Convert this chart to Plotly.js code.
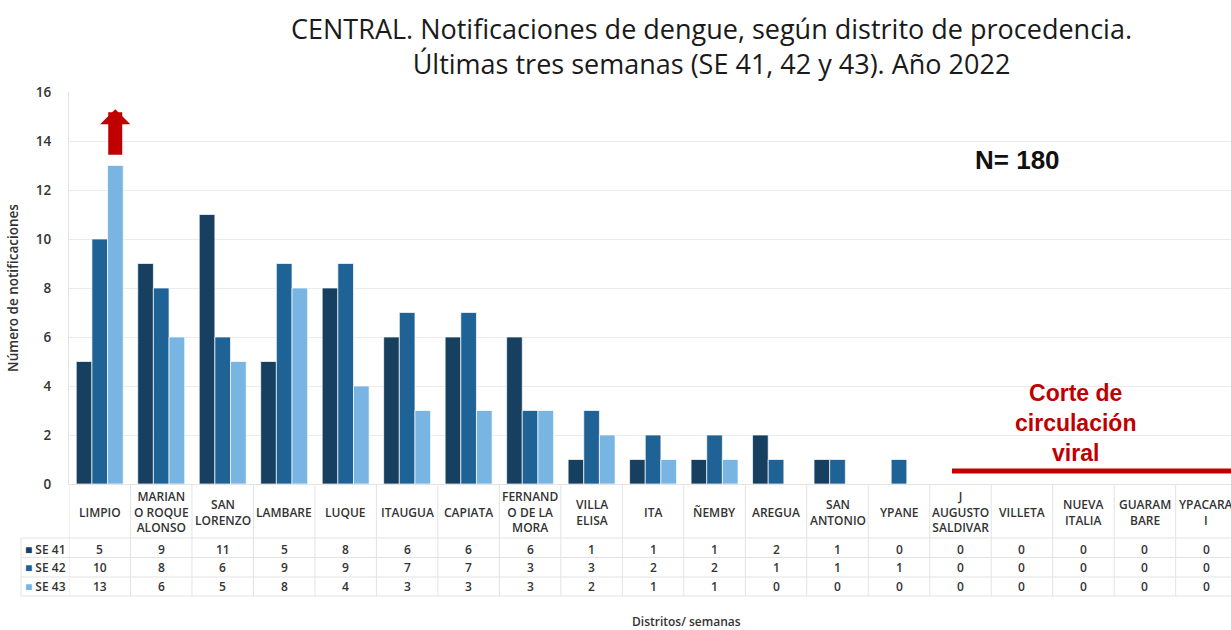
<!DOCTYPE html>
<html>
<head>
<meta charset="utf-8">
<script src="https://cdn.plot.ly/plotly-3.0.1.min.js"></script>
<style>html,body{margin:0;padding:0;background:#fff}#chart{width:1231px;height:630px}</style>
</head>
<body>
<div id="chart"></div>
<script>
// ---- Data ----
const districts = ["LIMPIO","MARIANO ROQUE ALONSO","SAN LORENZO","LAMBARE","LUQUE","ITAUGUA","CAPIATA","FERNANDO DE LA MORA","VILLA ELISA","ITA","ÑEMBY","AREGUA","SAN ANTONIO","YPANE","J AUGUSTO SALDIVAR","VILLETA","NUEVA ITALIA","GUARAMBARE","YPACARAI"];
const districtLabels = ["LIMPIO","MARIAN<br>O ROQUE<br>ALONSO","SAN<br>LORENZO","LAMBARE","LUQUE","ITAUGUA","CAPIATA","FERNAND<br>O DE LA<br>MORA","VILLA<br>ELISA","ITA","ÑEMBY","AREGUA","SAN<br>ANTONIO","YPANE","J<br>AUGUSTO<br>SALDIVAR","VILLETA","NUEVA<br>ITALIA","GUARAM<br>BARE","YPACARA<br>I"];
const seriesNames = ["SE 41","SE 42","SE 43"];
const se41 = [5,9,11,5,8,6,6,6,1,1,1,2,1,0,0,0,0,0,0];
const se42 = [10,8,6,9,9,7,7,3,3,2,2,1,1,1,0,0,0,0,0];
const se43 = [13,6,5,8,4,3,3,3,2,1,1,0,0,0,0,0,0,0,0];
const totalN = 180;

// ---- Styles ----
const colors = ["#163f60","#1f6295","#78b5e3"];
const seriesValues = [se41, se42, se43];
const txt = "#333333";
const gridC = "#ebebeb";
const fontFam = "'Open Sans', 'Noto Sans', sans-serif";

const traces = seriesValues.map((vals, i) => ({
  type: "bar",
  name: seriesNames[i],
  x: districts,
  y: vals,
  marker: {color: colors[i], line: {color: "rgba(255,255,255,0.7)", width: 1}},
  hoverinfo: "x+y+name"
}));

// paper-coordinate helpers (plot area: 392px tall, 1162px wide)
const PH = 392, PW = 1162;
const py = p => (484 - p) / PH;
const px = p => (p - 69) / PW;

const shapes = [];
const annotations = [];
const tableBottom = py(596);
// vertical table lines
for (let k = 0; k <= districts.length; k++) {
  shapes.push({type: "line", xref: "x", yref: "paper", x0: k - 0.5, x1: k - 0.5, y0: 0, y1: tableBottom,
    line: {color: "#e3e3e3", width: 1}});
}
// left legend column border
shapes.push({type: "line", xref: "paper", yref: "paper", x0: px(21), x1: px(21), y0: py(538), y1: tableBottom, line: {color: "#e3e3e3", width: 1}});
// horizontal row lines
[538, 557.5, 577, 596].forEach(p => shapes.push({type: "line", xref: "paper", yref: "paper", x0: px(21), x1: 1, y0: py(p), y1: py(p), line: {color: "#e3e3e3", width: 1}}));
// red "corte" line
shapes.push({type: "line", xref: "paper", yref: "paper", x0: px(952), x1: 1, y0: py(471), y1: py(471), line: {color: "#c00000", width: 5}});

// category labels
districtLabels.forEach((lab, i) => annotations.push({
  xref: "x", yref: "paper", x: i, y: py(512), text: lab, showarrow: false,
  xanchor: "center", yanchor: "middle", align: "center",
  font: {family: fontFam, size: 12, color: txt, weight: 600}
}));
// value rows
const rowY = [549, 567.5, 586.5];
seriesValues.forEach((vals, r) => {
  annotations.push({xref: "paper", yref: "paper", x: px(23), y: py(rowY[r]), xanchor: "left", yanchor: "middle",
    text: "<span style='color:" + colors[r] + "'>■</span> " + seriesNames[r], showarrow: false,
    font: {family: fontFam, size: 12, color: txt, weight: 600}});
  vals.forEach((v, i) => annotations.push({
    xref: "x", yref: "paper", x: i, y: py(rowY[r]), text: String(v), showarrow: false,
    xanchor: "center", yanchor: "middle", font: {family: fontFam, size: 12, color: txt, weight: 600}
  }));
});
// x axis title
annotations.push({xref: "paper", yref: "paper", x: px(686), y: py(621), text: "Distritos/ semanas", showarrow: false,
  xanchor: "center", yanchor: "middle", font: {family: fontFam, size: 12, color: txt, weight: 600}});
// N
annotations.push({xref: "paper", yref: "paper", x: px(1017), y: py(160), text: "<b>N= " + totalN + "</b>", showarrow: false,
  xanchor: "center", yanchor: "middle", font: {family: "'Liberation Sans', Arial, sans-serif", size: 26, color: "#111"}});
// Corte text
annotations.push({xref: "paper", yref: "paper", x: px(1075), y: py(423), text: "<b>Corte de<br>circulación<br>viral</b>", showarrow: false,
  xanchor: "center", yanchor: "middle", align: "center", font: {family: "'Liberation Sans', Arial, sans-serif", size: 23, color: "#c00000"}});
// red arrow above LIMPIO SE 43
annotations.push({xref: "x", yref: "y", x: 0.252, y: 15.3, text: "", showarrow: true, axref: "pixel", ayref: "pixel",
  ax: 0, ay: 47, arrowhead: 1, arrowsize: 0.36, arrowwidth: 14, arrowcolor: "#c00000"});

const layout = {
  width: 1231, height: 630,
  margin: {l: 69, r: 0, t: 92, b: 146},
  paper_bgcolor: "#fff", plot_bgcolor: "#fff",
  showlegend: false,
  barmode: "group", bargap: 0.236, bargroupgap: 0,
  title: {
    text: "CENTRAL. Notificaciones de dengue, según distrito de procedencia.<br>Últimas tres semanas (SE 41, 42 y 43). Año 2022",
    x: 0.578, xanchor: "center", yref: "container", y: 0.938, yanchor: "middle",
    font: {family: fontFam, size: 27, color: "#1a1a1a"}
  },
  xaxis: {type: "category", range: [-0.5, 18.4], showticklabels: false, ticks: "", showgrid: false,
    showline: true, linecolor: "#e3e3e3", linewidth: 1, zeroline: false, fixedrange: true},
  yaxis: {range: [0, 16], dtick: 2, tick0: 0, showgrid: true, gridcolor: gridC, gridwidth: 1,
    showline: true, linecolor: "#e3e3e3", zeroline: false, ticks: "", ticklabelstandoff: 14,
    tickfont: {family: fontFam, size: 13.5, color: txt, weight: 600},
    title: {text: "Número de notificaciones", standoff: 14, font: {family: fontFam, size: 13.5, color: txt, weight: 600}},
    fixedrange: true},
  shapes: shapes,
  annotations: annotations
};

Plotly.newPlot("chart", traces, layout, {displayModeBar: false});
</script>
</body>
</html>
